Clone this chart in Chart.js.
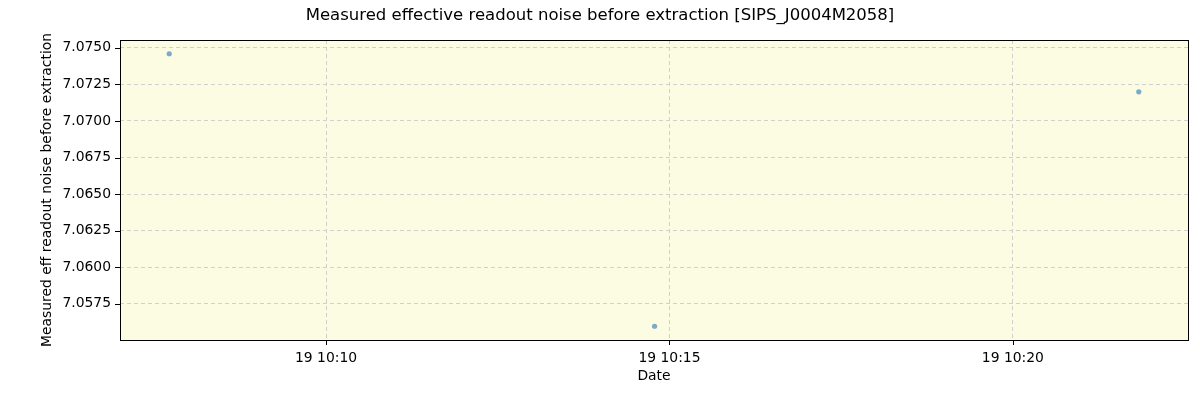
<!DOCTYPE html>
<html>
<head>
<meta charset="utf-8">
<script src="https://cdn.jsdelivr.net/npm/chart.js@4.4.0/dist/chart.umd.min.js"></script>
<style>
html,body{margin:0;padding:0;background:#fff;}
#wrap{width:1200px;height:400px;}
</style>
</head>
<body>
<div id="wrap"><canvas id="c" width="1200" height="400"></canvas></div>
<script>
// Times as seconds after 19 10:00
const pointTimes = [463, 887, 1310];
const noiseValues = [7.07459, 7.05597, 7.07199];
const xTickValues = [600, 900, 1200];
const yTickStep = 0.0025;
const titleText = 'Measured effective readout noise before extraction [SIPS_J0004M2058]';
const yAxisTitle = 'Measured eff readout noise before extraction';
const xAxisTitle = 'Date';

const FONT = 'DejaVu Sans';

const framePlugin = {
  id: 'frame',
  beforeDraw(chart) {
    const {ctx, chartArea: a} = chart;
    ctx.save();
    ctx.fillStyle = '#fcfce3';
    ctx.fillRect(a.left, a.top, a.right - a.left, a.bottom - a.top);
    ctx.restore();
  },
  afterDraw(chart) {
    const {ctx, chartArea: a, scales} = chart;
    ctx.save();
    ctx.strokeStyle = '#000';
    ctx.lineWidth = 1;
    ctx.setLineDash([]);
    ctx.beginPath();
    scales.x.ticks.forEach(t => {
      const px = Math.round(scales.x.getPixelForValue(t.value)) + 0.5;
      ctx.moveTo(px, a.bottom);
      ctx.lineTo(px, a.bottom + 5);
    });
    scales.y.ticks.forEach(t => {
      const py = Math.round(scales.y.getPixelForValue(t.value)) + 0.5;
      ctx.moveTo(a.left - 5, py);
      ctx.lineTo(a.left, py);
    });
    ctx.stroke();
    ctx.strokeRect(Math.round(a.left) + 0.5, Math.round(a.top) + 0.5, Math.round(a.right - a.left), Math.round(a.bottom - a.top));
    ctx.restore();
  }
};

new Chart(document.getElementById('c'), {
  type: 'scatter',
  data: {
    datasets: [{
      data: pointTimes.map((t, i) => ({x: t, y: noiseValues[i]})),
      backgroundColor: 'rgba(31,119,180,0.6)',
      borderColor: 'rgba(31,119,180,0.6)',
      pointRadius: 2.6,
      pointHoverRadius: 2.6,
      borderWidth: 0
    }]
  },
  options: {
    responsive: false,
    animation: false,
    devicePixelRatio: 1,
    layout: {padding: {left: 12, right: 12, top: 0, bottom: 0}},
    plugins: {
      legend: {display: false},
      tooltip: {enabled: false},
      title: {
        display: true,
        text: titleText,
        color: '#000',
        font: {family: FONT, size: 16.5, weight: 'normal', lineHeight: 1.2},
        padding: {top: 6, bottom: 14.2}
      }
    },
    scales: {
      x: {
        type: 'linear',
        min: 420,
        max: 1353,
        afterBuildTicks(axis) { axis.ticks = xTickValues.map(v => ({value: v})); },
        afterFit(axis) { axis.height = 60; },
        ticks: {
          color: '#000',
          font: {family: FONT, size: 13.9},
          maxRotation: 0,
          padding: 5,
          callback: v => '19 10:' + String(Math.round(v / 60)).padStart(2, '0')
        },
        grid: {
          color: '#d0d0d0',
          lineWidth: 1,
          drawTicks: true,
          tickColor: 'rgba(0,0,0,0)',
          tickLength: 5
        },
        border: {display: false, dash: [4, 3]},
        title: {
          display: true,
          text: xAxisTitle,
          color: '#000',
          font: {family: FONT, size: 13.9},
          padding: {top: 15, bottom: 15}
        }
      },
      y: {
        type: 'linear',
        min: 7.05503,
        max: 7.07553,
        afterFit(axis) { axis.width = 108; },
        ticks: {
          stepSize: yTickStep,
          includeBounds: false,
          color: '#000',
          font: {family: FONT, size: 13.9},
          padding: 4,
          callback: v => v.toFixed(4)
        },
        grid: {
          color: '#d0d0d0',
          lineWidth: 1,
          tickColor: 'rgba(0,0,0,0)',
          tickLength: 5
        },
        border: {display: false, dash: [4, 3]},
        title: {
          display: true,
          text: yAxisTitle,
          color: '#000',
          font: {family: FONT, size: 13.9},
          padding: {top: 27, bottom: 27}
        }
      }
    }
  },
  plugins: [framePlugin]
});
</script>
</body>
</html>
